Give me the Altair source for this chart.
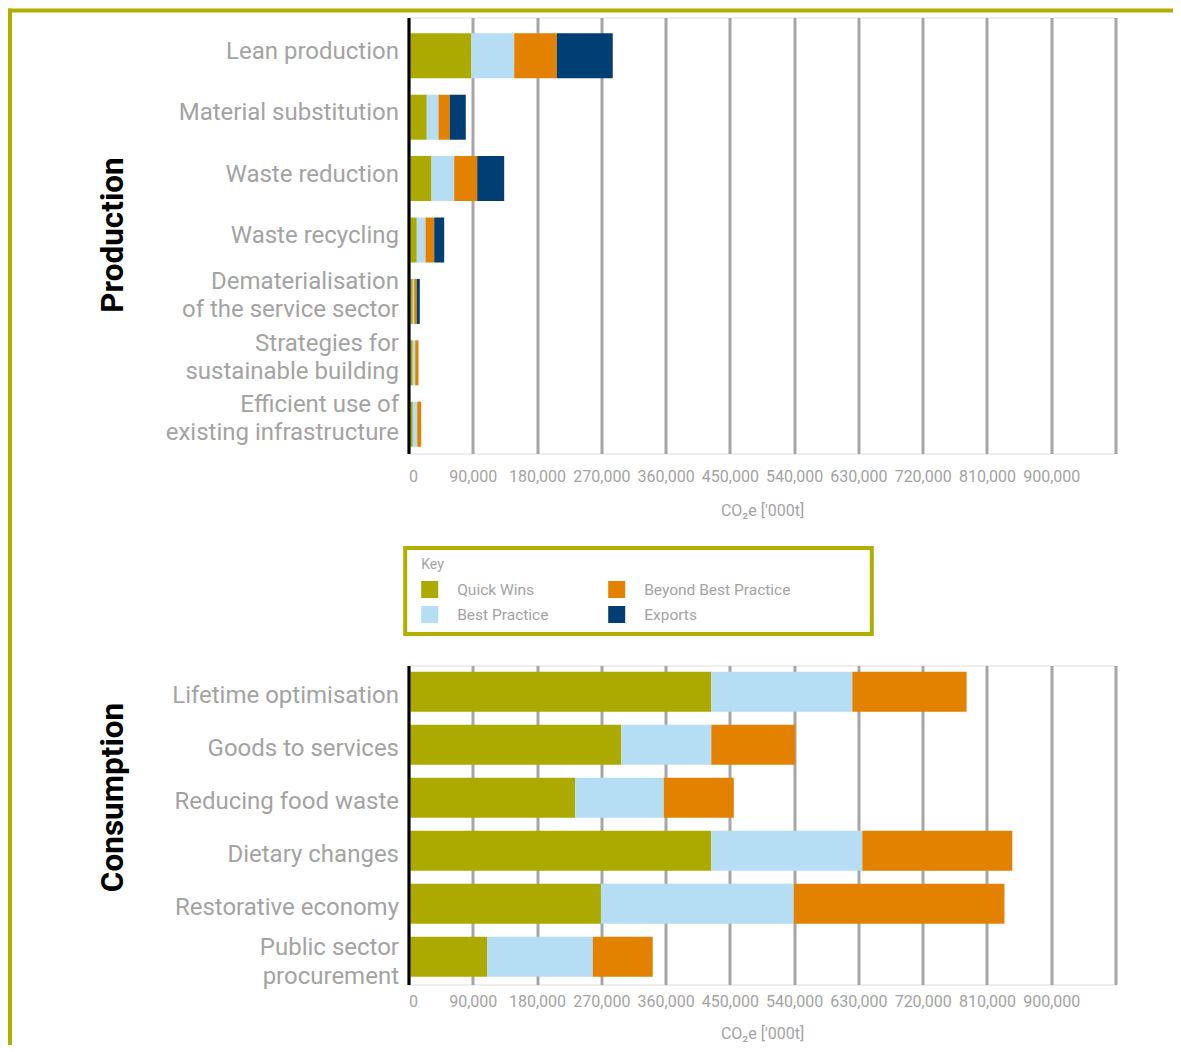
import altair as alt
import pandas as pd

# ---------------- data ----------------
series = ["Quick Wins", "Best Practice", "Beyond Best Practice", "Exports"]
series_colors = ["#aca900", "#b5ddf3", "#e38100", "#003e74"]

production_categories = [
    "Lean production",
    "Material substitution",
    "Waste reduction",
    "Waste recycling",
    "Dematerialisation\nof the service sector",
    "Strategies for\nsustainable building",
    "Efficient use of\nexisting infrastructure",
]
prod_quick_wins = [87800, 25600, 32200, 11600, 6000, 6000, 6000]
prod_best_practice = [60200, 16400, 31800, 12200, 2000, 3400, 6200]
prod_beyond_best = [59600, 15800, 32200, 12200, 3600, 4600, 5600]
prod_exports = [78400, 22400, 37800, 14000, 4200, 0, 0]

consumption_categories = [
    "Lifetime optimisation",
    "Goods to services",
    "Reducing food waste",
    "Dietary changes",
    "Restorative economy",
    "Public sector\nprocurement",
]
cons_quick_wins = [424000, 298000, 233500, 424000, 269500, 110000]
cons_best_practice = [197500, 126000, 124000, 211500, 270000, 148000]
cons_beyond_best = [160000, 117500, 98000, 210000, 295000, 84000]

x_ticks = [0, 90000, 180000, 270000, 360000, 450000, 540000, 630000, 720000, 810000, 900000, 990000]
x_title = "CO\u2082e ['000t]"

# ---------------- styles ----------------
GRAY = "#a3a3a3"
FRAME = "#b2ae00"
FONT = "Roboto"


def to_long(cats, columns):
    rows = []
    for i, cat in enumerate(cats):
        for k, (name, vals) in enumerate(columns):
            if vals[i] > 0:
                rows.append({"strategy": cat, "series": name, "order": k, "value": vals[i]})
    return pd.DataFrame(rows)


prod_df = to_long(production_categories, [
    ("Quick Wins", prod_quick_wins),
    ("Best Practice", prod_best_practice),
    ("Beyond Best Practice", prod_beyond_best),
    ("Exports", prod_exports),
])
cons_df = to_long(consumption_categories, [
    ("Quick Wins", cons_quick_wins),
    ("Best Practice", cons_best_practice),
    ("Beyond Best Practice", cons_beyond_best),
])

legend = alt.Legend(
    orient="none", legendX=12.7, legendY=540.5,
    title="Key", titleFont=FONT, titleFontSize=14, titleColor=GRAY,
    titleFontWeight="normal", titlePadding=9,
    columns=2, columnPadding=59, rowPadding=8,
    symbolType="square", symbolSize=289, symbolStrokeWidth=0, symbolOpacity=1,
    labelFont=FONT, labelFontSize=15.5, labelColor=GRAY, labelOffset=19,
    labelLimit=300, padding=0,
)

color = alt.Color(
    "series:N",
    scale=alt.Scale(domain=series, range=series_colors),
    legend=legend,
)


def panel(df, cats, title, p_inner, p_outer, align, title_y, label_pad, xtitle_y,
          single_off, multi_off, line_h):
    x = alt.X(
        "value:Q",
        stack="zero",
        scale=alt.Scale(domain=[0, 990000], nice=False),
        axis=alt.Axis(
            values=x_ticks, title=x_title, grid=True, gridColor="#a6a6a6", gridWidth=3,
            domain=False, ticks=False, tickSize=0,
            labelExpr="datum.value > 900000 ? '' : format(datum.value, ',')",
            labelFont=FONT, labelFontSize=16, labelColor=GRAY, labelPadding=label_pad,
            titleFont=FONT, titleFontSize=16, titleColor=GRAY, titleFontWeight="normal",
            titleY=xtitle_y, titleBaseline="middle",
        ),
    )
    y = alt.Y(
        "strategy:N",
        sort=cats,
        scale=alt.Scale(paddingInner=p_inner, paddingOuter=p_outer, align=align),
        axis=alt.Axis(
            title=title, titleX=-295, titleY=title_y, titleAngle=270,
            titleAlign="center", titleBaseline="middle",
            titleFont=FONT, titleFontSize=31.5, titleFontWeight="bold", titleColor="#000000",
            labelExpr="split(datum.label, '\\n')", labelLineHeight=line_h, labelLimit=400,
            labelFont=FONT, labelFontSize=24, labelColor=GRAY, labelPadding=10,
            labelOffset={"condition": {"test": "indexof(datum.value, '\\n') >= 0",
                                       "value": multi_off},
                         "value": single_off},
            ticks=False, tickSize=0, grid=False,
            domainColor="#000000", domainWidth=3, zindex=1,
        ),
    )
    return alt.Chart(df).mark_bar().encode(
        x=x, y=y, color=color, order=alt.Order("order:Q", sort="ascending")
    )


prod_bars = panel(prod_df, production_categories, "Production",
                  0.267, 0.184, 0.70, 217, 15, 56.5, -4, -19, 28)
cons_bars = panel(cons_df, consumption_categories, "Consumption",
                  0.245, 0.132, 0.44, 131.5, 9, 48.5, 4, -9, 29)

one = pd.DataFrame({"frame": [0]})
frame_left = alt.Chart(one).mark_rule(color=FRAME, strokeWidth=4).encode(
    x=alt.value(-398.5), y=alt.value(-9), y2=alt.value(1030)
)
frame_top = alt.Chart(one).mark_rule(color=FRAME, strokeWidth=4).encode(
    x=alt.value(-400.5), x2=alt.value(765), y=alt.value(-7)
)
key_box = alt.Chart(one).mark_rect(fillOpacity=0, stroke=FRAME, strokeWidth=4).encode(
    x=alt.value(-3.3), x2=alt.value(463.3), y=alt.value(530.5), y2=alt.value(616.5)
)

top = alt.layer(prod_bars, frame_left, frame_top, key_box).properties(width=707, height=436)
bottom = cons_bars.properties(width=707, height=319)

chart = alt.vconcat(top, bottom, spacing=212, bounds="flush").properties(
    padding={"left": -2.5, "top": -2.5, "right": -4, "bottom": -6}
).configure_view(strokeWidth=0).configure(font=FONT)

chart.save("out.html", embed_options={"renderer": "svg", "actions": False})
